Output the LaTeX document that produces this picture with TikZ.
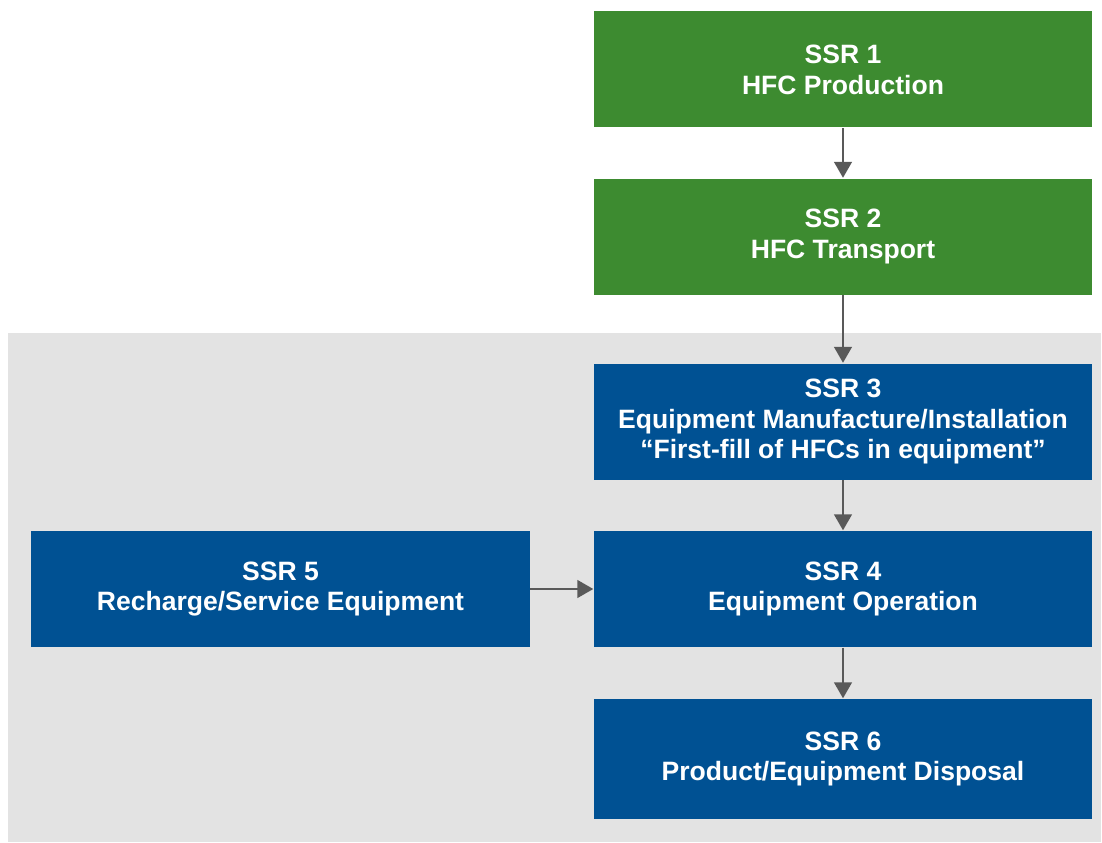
\documentclass[tikz,border=0pt]{standalone}
\usepackage{fontspec}
\setmainfont{Liberation Sans}
\usepackage{xcolor}
\usetikzlibrary{arrows.meta}

\definecolor{ssrgreen}{HTML}{3D8B30}
\definecolor{ssrblue}{HTML}{005193}
\definecolor{zonegray}{HTML}{E3E3E3}
\definecolor{flowgray}{HTML}{595959}

\tikzset{
	ssrbox/.style={rectangle, minimum width=4.98cm, minimum height=1.16cm,
		inner sep=0pt, text=white, align=center,
		font=\fontsize{7.55}{8.75}\selectfont\bfseries},
	greenbox/.style={ssrbox, fill=ssrgreen},
	bluebox/.style={ssrbox, fill=ssrblue},
	flow/.style={draw=flowgray, line width=0.6pt,
		-{Triangle[width=5pt, length=4.5pt]}}
}

\begin{document}
\begin{tikzpicture}

\useasboundingbox (0,0) rectangle (11.02,8.42);

% shaded zone behind the lower boxes
\fill[zonegray] (0.08,0) rectangle (11.01,5.09);

\node[greenbox] (ssr1) at (8.43,7.725) {SSR 1\\HFC Production};
\node[greenbox] (ssr2) at (8.43,6.055) {SSR 2\\HFC Transport};

\node[bluebox] (ssr3) at (8.43,4.205) {SSR 3\\Equipment Manufacture/Installation\\``First-fill of HFCs in equipment''};
\node[bluebox] (ssr4) at (8.43,2.53) {SSR 4\\Equipment Operation};
\node[bluebox] (ssr5) at (2.805,2.53) {SSR 5\\Recharge/Service Equipment};
\node[bluebox, minimum height=1.2cm] (ssr6) at (8.43,0.83) {SSR 6\\Product/Equipment Disposal};

\draw[flow] (ssr1) -- (ssr2);
\draw[flow] (ssr2) -- (ssr3);
\draw[flow] (ssr3) -- (ssr4);
\draw[flow] (ssr4) -- (ssr6);
\draw[flow] (ssr5) -- (ssr4);

\end{tikzpicture}
\end{document}
